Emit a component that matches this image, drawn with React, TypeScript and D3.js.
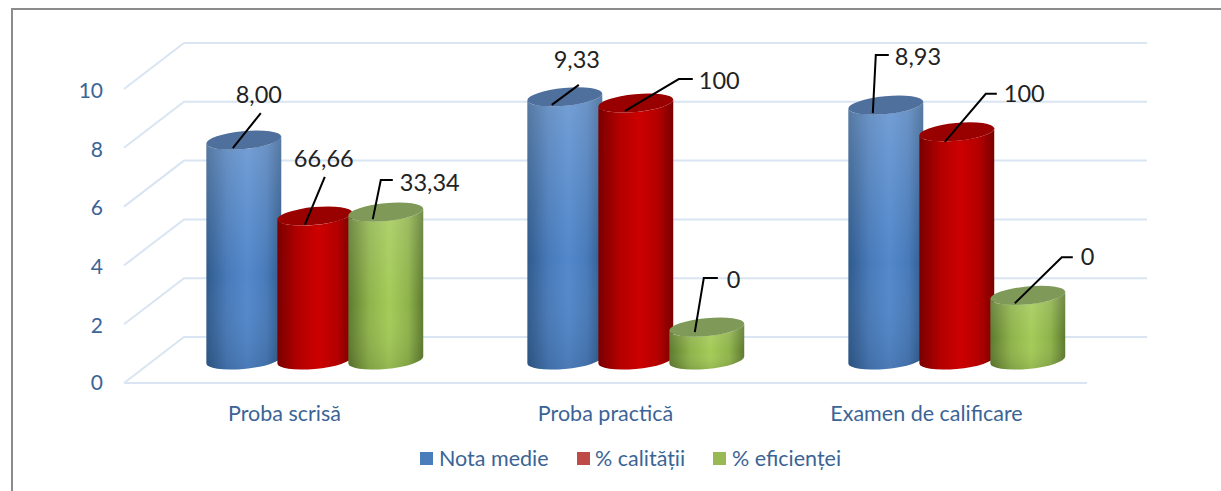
import React from "react";
import * as d3 from "d3";

const categories = ["Proba scrisă", "Proba practică", "Examen de calificare"];
const seriesNames = ["Nota medie", "% calității", "% eficienței"];
// Heights as drawn in the picture, read against the 0-10 axis
const notaMedie = [7.48, 8.95, 8.67];
const calitatii = [4.9, 8.74, 7.76];
const eficientei = [5.03, 1.12, 2.2];
// Printed labels (differ from the drawn heights in the source)
const notaLabels = ["8,00", "9,33", "8,93"];
const calitatiLabels = ["66,66", "100", "100"];
const eficienteiLabels = ["33,34", "0", "0"];
const yTicks = [0, 2, 4, 6, 8, 10];

const W = 1221, H = 491;
const FONT = "Lato, 'Open Sans', sans-serif";
const AXIS = "#3b6496";
const DEPTH_X = 60, DEPTH_Y = 46;
const RX = 37.6, RY = 8.9, TILT = (-5.5 * Math.PI) / 180;

const palette = [
  { id: "b", edge: "#2f5a8c", mid: "#5288cc", cap: "#4f709c", swatch: "#4a7ebb", sheen: 0.2 },
  { id: "r", edge: "#7a0000", mid: "#cc0000", cap: "#990000", swatch: "#be4b48", sheen: 0 },
  { id: "g", edge: "#5d7a2e", mid: "#a4cb58", cap: "#7f9a58", swatch: "#98b954", sheen: 0.14 },
];

// Leader polyline + label placement, relative to the bar's top centre
const leaders = [
  [
    { pts: [[-11, 8], [17, -27]], tx: 15, ty: -43, a: "middle" },
    { pts: [[-10, 9], [10, -39]], tx: 9, ty: -55, a: "middle" },
    { pts: [[-13, 7], [-5, -32], [7, -32]], tx: 14, ty: -27, a: "start" },
  ],
  [
    { pts: [[-13, 8], [14, -12]], tx: 12, ty: -35, a: "middle" },
    { pts: [[-11, 8], [43, -24], [57, -24]], tx: 63, ty: -20, a: "start" },
    { pts: [[-12, 5], [-3, -49], [11, -49]], tx: 20, ty: -45, a: "start" },
  ],
  [
    { pts: [[-13, 8], [-10, -50], [3, -50]], tx: 9, ty: -46, a: "start" },
    { pts: [[-12, 10], [29, -38], [40, -38]], tx: 47, ty: -36, a: "start" },
    { pts: [[-13, 8], [34, -38], [45, -38]], tx: 53, ty: -36, a: "start" },
  ],
];

const x = d3.scaleBand<string>().domain(categories).range([124, 1087]);
const y = d3.scaleLinear().domain([0, 10]).range([383, 89]);
const offset = d3.scalePoint<string>().domain(seriesNames).range([-71, 71]);
const line = d3.line();

// Point on the tilted ellipse where its outline is vertical
const t0 = Math.atan2(-RY * Math.sin(TILT), RX * Math.cos(TILT));
const ex = RX * Math.cos(t0) * Math.cos(TILT) - RY * Math.sin(t0) * Math.sin(TILT);
const ey = RX * Math.cos(t0) * Math.sin(TILT) + RY * Math.sin(t0) * Math.cos(TILT);
const deg = (TILT * 180) / Math.PI;

function Cylinder({ cx, top, base, p }: any) {
  const body =
    `M${cx - ex},${top - ey} L${cx - ex},${base - ey} ` +
    `A${RX},${RY} ${deg} 0 0 ${cx + ex},${base + ey} ` +
    `L${cx + ex},${top + ey} A${RX},${RY} ${deg} 0 1 ${cx - ex},${top - ey} Z`;
  return (
    <g>
      <path d={body} fill={`url(#h-${p.id})`} />
      {p.sheen > 0 && <path d={body} fill={`url(#v-${p.id})`} />}
      <ellipse cx={cx} cy={top} rx={RX} ry={RY} fill={p.cap} transform={`rotate(${deg} ${cx} ${top})`} />
    </g>
  );
}

export default function App() {
  const values = [notaMedie, calitatii, eficientei];
  const labels = [notaLabels, calitatiLabels, eficienteiLabels];
  const cols = categories.map((c) => x(c)! + x.bandwidth() / 2 + DEPTH_X / 2 + 0.3);
  const base = y(0) - DEPTH_Y / 2;
  const barTop = (v: number) => y(v) - DEPTH_Y / 2;
  const legendX = [420, 577, 713];
  return (
    <svg width={W} height={H} style={{ position: "absolute", left: 0, top: 0, background: "#fff" }} fontFamily={FONT}>
      <defs>
        {palette.map((p) => (
          <React.Fragment key={p.id}>
            <linearGradient id={`h-${p.id}`} x1="0" x2="1" y1="0" y2="0">
              <stop offset="0" stopColor={p.edge} />
              <stop offset="0.28" stopColor={d3.interpolateRgb(p.edge, p.mid)(0.7)} />
              <stop offset="0.55" stopColor={p.mid} />
              <stop offset="0.8" stopColor={d3.interpolateRgb(p.edge, p.mid)(0.7)} />
              <stop offset="1" stopColor={p.edge} />
            </linearGradient>
            <linearGradient id={`v-${p.id}`} x1="0" x2="0" y1="0" y2="1">
              <stop offset="0" stopColor="#fff" stopOpacity={p.sheen} />
              <stop offset="0.6" stopColor="#fff" stopOpacity="0" />
              <stop offset="1" stopColor="#000" stopOpacity="0.1" />
            </linearGradient>
          </React.Fragment>
        ))}
      </defs>

      <path d="M12,491 V9 H1221" fill="none" stroke="#8c8c8c" strokeWidth={2} />

      {yTicks.map((t) => (
        <g key={t}>
          <path
            d={line([[124, y(t)], [124 + DEPTH_X, y(t) - DEPTH_Y], [1087 + DEPTH_X, y(t) - DEPTH_Y]])!}
            fill="none"
            stroke="#d9e5f3"
            strokeWidth={2}
          />
          <text x={103} y={y(t) + (t === 0 ? 2 : 3.5)} textAnchor="end" dominantBaseline="middle" fontSize={21} fill={AXIS}>
            {t}
          </text>
        </g>
      ))}
      <line x1={124} x2={1087} y1={y(0)} y2={y(0)} stroke="#d9e5f3" strokeWidth={2} />

      {categories.map((c, i) => (
        <g key={c}>
          {seriesNames.map((s, j) => (
            <Cylinder key={s} cx={cols[i] + offset(s)!} top={barTop(values[j][i])} base={base} p={palette[j]} />
          ))}
        </g>
      ))}

      {categories.map((c, i) =>
        seriesNames.map((s, j) => {
          const cx = cols[i] + offset(s)!;
          const cy = barTop(values[j][i]);
          const l = leaders[i][j];
          return (
            <g key={c + s}>
              <path
                d={line(l.pts.map(([a, b]) => [cx + a, cy + b] as [number, number]))!}
                fill="none"
                stroke="#000"
                strokeWidth={2}
              />
              <text x={cx + l.tx} y={cy + l.ty} textAnchor={l.a as any} dominantBaseline="middle" fontSize={23.5} fill="#222">
                {labels[j][i]}
              </text>
            </g>
          );
        })
      )}

      {categories.map((c) => (
        <text key={c} x={x(c)! + x.bandwidth() / 2} y={416} textAnchor="middle" dominantBaseline="middle" fontSize={21.5} fill={AXIS}>
          {c}
        </text>
      ))}

      {seriesNames.map((s, j) => (
        <g key={s}>
          <rect x={legendX[j]} y={452} width={13} height={13} fill={palette[j].swatch} />
          <text x={legendX[j] + (j === 1 ? 18 : 19)} y={461} dominantBaseline="middle" fontSize={21.5} fill={AXIS}>
            {s}
          </text>
        </g>
      ))}
    </svg>
  );
}
